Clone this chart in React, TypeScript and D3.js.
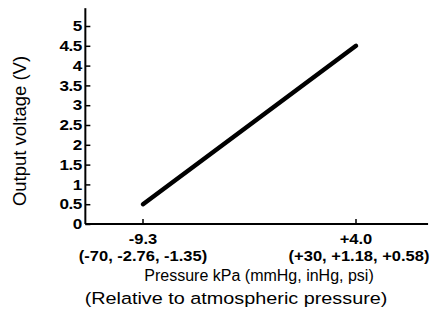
import { useEffect, useRef } from 'react';
import * as d3 from 'd3';

// Pressure (kPa) vs output voltage (V)
const pressureKpa = [-9.3, 4.0];
const outputVolts = [0.5, 4.5];

const yTicks = [0, 0.5, 1, 1.5, 2, 2.5, 3, 3.5, 4, 4.5, 5];
const xTickValues = [-9.3, 4.0];
const xTickLabels = ['-9.3', '+4.0'];
const xTickSubLabels = ['(-70, -2.76, -1.35)', '(+30, +1.18, +0.58)'];

const W = 433;
const H = 321;
const STRETCH = 1.18; // the scanned lettering is wider than Arial

export default function App() {
  const svgRef = useRef<SVGSVGElement>(null);

  useEffect(() => {
    if (!svgRef.current) return;
    const svg = d3.select(svgRef.current);
    svg.selectAll('*').remove();

    const font = '"Liberation Sans", Arial, Helvetica, sans-serif';

    // x: kPa, y: volts
    const x = d3.scaleLinear().domain([-9.3, 4.0]).range([143, 356]);
    const y = d3.scaleLinear().domain([0, 5]).range([224, 26]);

    const x0 = x(-12.9);
    const x1 = x(8.5);
    const yTop = y(5.45);

    const label = (tx: number, ty: number, txt: string, size: number, bold: boolean, sx = STRETCH) =>
      svg.append('text')
        .attr('transform', `translate(${tx},${ty}) scale(${sx},1)`)
        .attr('text-anchor', 'middle')
        .attr('font-family', font)
        .attr('font-size', size)
        .attr('font-weight', bold ? 'bold' : 'normal')
        .attr('fill', '#000')
        .text(txt);

    // Y axis
    const yAxis = d3.axisLeft(y)
      .tickValues(yTicks)
      .tickSize(-5)
      .tickPadding(3)
      .tickFormat(d => String(d));
    const gy = svg.append('g')
      .attr('transform', `translate(${x0},0)`)
      .call(yAxis);
    gy.select('.domain').remove();
    gy.selectAll('line').attr('stroke', '#000').attr('stroke-width', 1.5);
    gy.selectAll('text')
      .attr('font-family', font)
      .attr('font-size', 14.5)
      .attr('font-weight', 'bold')
      .attr('letter-spacing', -0.4)
      .attr('transform', `scale(${STRETCH},1)`)
      .attr('fill', '#000');

    svg.append('line')
      .attr('x1', x0).attr('x2', x0)
      .attr('y1', yTop).attr('y2', y(0))
      .attr('stroke', '#000').attr('stroke-width', 2);

    // X axis
    svg.append('line')
      .attr('x1', x0).attr('x2', x1)
      .attr('y1', y(0)).attr('y2', y(0))
      .attr('stroke', '#000').attr('stroke-width', 2);

    xTickValues.forEach((v, i) => {
      svg.append('line')
        .attr('x1', x(v)).attr('x2', x(v))
        .attr('y1', y(0)).attr('y2', y(0) - 5)
        .attr('stroke', '#000').attr('stroke-width', 1.5);
      label(x(v), y(0) + 20, xTickLabels[i], 14, true);
      label(x(v) + (i === 1 ? 3 : 0), y(0) + 37, xTickSubLabels[i], 14, true);
    });

    // Line
    const line = d3.line<number>()
      .x((_, i) => x(pressureKpa[i]))
      .y(d => y(d));
    svg.append('path')
      .datum(outputVolts)
      .attr('d', line)
      .attr('fill', 'none')
      .attr('stroke', '#000')
      .attr('stroke-width', 4.5)
      .attr('stroke-linecap', 'round');

    // Axis titles
    label(259, 281, 'Pressure kPa (mmHg, inHg, psi)', 16, false, 1.0);
    label(236, 304, '(Relative to atmospheric pressure)', 16.8, false);
    svg.append('text')
      .attr('transform', 'translate(26,131) rotate(-90)')
      .attr('text-anchor', 'middle')
      .attr('font-family', font)
      .attr('font-size', 18.5)
      .attr('fill', '#000')
      .text('Output voltage (V)');
  }, []);

  return (
    <svg
      ref={svgRef}
      width={W}
      height={H}
      style={{ position: 'absolute', left: 0, top: 0, background: '#fff' }}
    />
  );
}
